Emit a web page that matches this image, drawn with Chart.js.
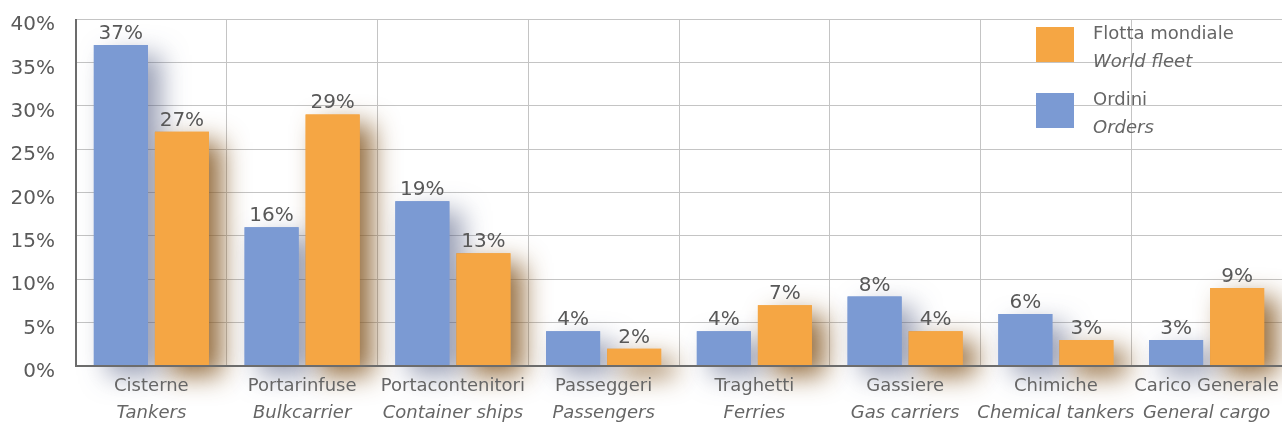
<!DOCTYPE html>
<html>
<head>
<meta charset="utf-8">
<script src="https://cdn.jsdelivr.net/npm/chart.js@4/dist/chart.umd.min.js"></script>
<style>
  html, body { margin: 0; padding: 0; background: #ffffff; }
  #wrap { width: 1282px; height: 428px; position: relative; }
</style>
</head>
<body>
<div id="wrap"><canvas id="c" width="1282" height="428"></canvas></div>
<script>
// Ship types: Italian name and English name
const categoriesIt = ['Cisterne', 'Portarinfuse', 'Portacontenitori', 'Passeggeri', 'Traghetti', 'Gassiere', 'Chimiche', 'Carico Generale'];
const categoriesEn = ['Tankers', 'Bulkcarrier', 'Container ships', 'Passengers', 'Ferries', 'Gas carriers', 'Chemical tankers', 'General cargo'];

// Share of each ship type, in percent
const ordersValues = [37, 16, 19, 4, 4, 8, 6, 3];
const worldFleetValues = [27, 29, 13, 2, 7, 4, 3, 9];

// Series names (Italian / English)
const seriesIt = ['Ordini', 'Flotta mondiale'];
const seriesEn = ['Orders', 'World fleet'];

// Value axis
const yMin = 0, yMax = 40, yStep = 5;

const FONT = '"DejaVu Sans", "Liberation Sans", sans-serif';
const TEXT = '#666666';
const BLUE = '#7b9ad3';
const ORANGE = '#f5a644';
const SHADOWS = ['rgba(70, 80, 120, 0.55)', 'rgba(130, 85, 30, 0.85)'];

// Soft drop shadows: draw every bar once with a shadow before the normal pass
const shadowPass = {
  id: 'shadowPass',
  beforeDatasetsDraw(chart) {
    const ctx = chart.ctx;
    const metas = chart.getSortedVisibleDatasetMetas();
    for (let i = metas.length - 1; i >= 0; i--) {
      const meta = metas[i];
      ctx.save();
      ctx.shadowColor = SHADOWS[meta.index];
      ctx.shadowBlur = 26;
      ctx.shadowOffsetX = 13;
      ctx.shadowOffsetY = 10;
      meta.controller.draw();
      ctx.restore();
    }
  }
};

// Axis lines on top of the bars, then the value labels
const overlay = {
  id: 'overlay',
  afterDatasetsDraw(chart) {
    const ctx = chart.ctx;
    const a = chart.chartArea;
    ctx.save();
    ctx.strokeStyle = '#6c6c6c';
    ctx.lineWidth = 2;
    ctx.beginPath();
    ctx.moveTo(a.left, a.top);
    ctx.lineTo(a.left, a.bottom);
    ctx.lineTo(a.right, a.bottom);
    ctx.stroke();

    ctx.fillStyle = '#585858';
    ctx.font = '20px ' + FONT;
    ctx.textAlign = 'center';
    ctx.textBaseline = 'alphabetic';
    chart.data.datasets.forEach((ds, di) => {
      const meta = chart.getDatasetMeta(di);
      meta.data.forEach((bar, i) => {
        ctx.fillText(ds.data[i] + '%', bar.x, bar.y - 6);
      });
    });
    ctx.restore();
  },
  afterDraw(chart) {
    const ctx = chart.ctx;
    const a = chart.chartArea;
    const xs = chart.scales.x;
    ctx.save();
    ctx.textAlign = 'center';
    ctx.textBaseline = 'alphabetic';
    ctx.fillStyle = TEXT;
    categoriesIt.forEach((name, i) => {
      const x = xs.getPixelForValue(i);
      ctx.font = '18px ' + FONT;
      ctx.fillText(name, x, a.bottom + 25);
      ctx.font = 'italic 18px ' + FONT;
      ctx.fillText(categoriesEn[i], x, a.bottom + 52);
    });

    // Legend: world fleet first, then orders
    const items = [
      { color: ORANGE, it: seriesIt[1], en: seriesEn[1], top: 27 },
      { color: BLUE, it: seriesIt[0], en: seriesEn[0], top: 93 }
    ];
    ctx.textAlign = 'left';
    items.forEach(it => {
      ctx.fillStyle = it.color;
      ctx.fillRect(1036, it.top, 38, 35);
      ctx.fillStyle = TEXT;
      ctx.font = '18px ' + FONT;
      ctx.fillText(it.it, 1093, it.top + 12);
      ctx.font = 'italic 18px ' + FONT;
      ctx.fillText(it.en, 1093, it.top + 40);
    });
    ctx.restore();
  }
};

new Chart(document.getElementById('c'), {
  type: 'bar',
  data: {
    labels: categoriesIt,
    datasets: [
      { label: seriesIt[0], data: ordersValues, backgroundColor: BLUE, borderWidth: 0 },
      { label: seriesIt[1], data: worldFleetValues, backgroundColor: ORANGE, borderWidth: 0 }
    ]
  },
  options: {
    responsive: false,
    animation: false,
    devicePixelRatio: 1,
    categoryPercentage: 0.81,
    barPercentage: 0.885,
    layout: { padding: { top: 19, right: 0, left: 0, bottom: 0 } },
    plugins: { legend: { display: false }, tooltip: { enabled: false } },
    scales: {
      x: {
        grid: { color: '#c4c4c4', lineWidth: 1, drawTicks: false, offset: true },
        border: { display: false },
        ticks: { display: false },
        afterFit(s) { s.height = 62; s.paddingLeft = 0; s.paddingRight = 0; }
      },
      y: {
        min: yMin,
        max: yMax,
        grid: { color: '#c4c4c4', lineWidth: 1, drawTicks: false },
        border: { display: false },
        ticks: {
          stepSize: yStep,
          padding: 21,
          labelOffset: 6,
          color: '#5a5a5a',
          font: { family: FONT, size: 20 },
          callback: v => v + '%'
        },
        afterFit(s) { s.width = 76; s.paddingTop = 0; s.paddingBottom = 0; }
      }
    }
  },
  plugins: [shadowPass, overlay]
});
</script>
</body>
</html>
